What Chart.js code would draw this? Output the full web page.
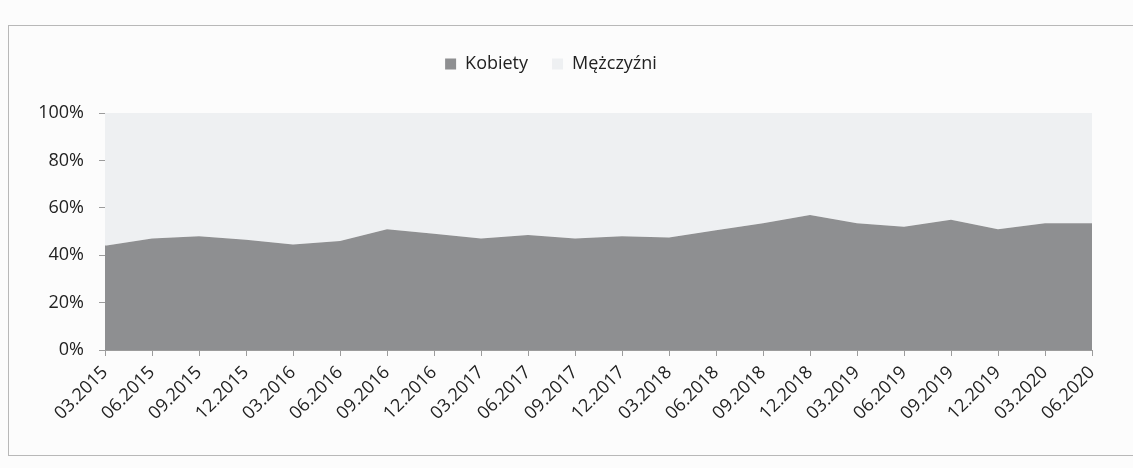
<!DOCTYPE html>
<html lang="pl">
<head>
<meta charset="utf-8">
<script src="https://cdn.jsdelivr.net/npm/chart.js@4/dist/chart.umd.min.js"></script>
<style>
  html, body { margin: 0; padding: 0; background: #fcfcfc; }
  #wrap  { position: relative; width: 1133px; height: 468px; overflow: hidden; }
  #frame { position: absolute; left: 8px; top: 25px; width: 1200px; height: 429px; border: 1px solid #b8b8b8; }
  canvas { position: absolute; left: 0; top: 0; }
</style>
</head>
<body>
<div id="wrap">
  <div id="frame"></div>
  <canvas id="chart" width="1133" height="468"></canvas>
</div>
<script>
// kwartały (koniec okresu)
const quarters = [
  '03.2015','06.2015','09.2015','12.2015','03.2016','06.2016','09.2016','12.2016',
  '03.2017','06.2017','09.2017','12.2017','03.2018','06.2018','09.2018','12.2018',
  '03.2019','06.2019','09.2019','12.2019','03.2020','06.2020'
];
// udział w % (odczyt z wykresu)
const kobiety   = [44, 47, 48, 46.5, 44.5, 46, 51, 49, 47, 48.5, 47, 48, 47.5, 50.5, 53.5, 57, 53.5, 52, 55, 51, 53.5, 53.5];
const mezczyzni = [56, 53, 52, 53.5, 55.5, 54, 49, 51, 53, 51.5, 53, 52, 52.5, 49.5, 46.5, 43, 46.5, 48, 45, 49, 46.5, 46.5];
const yTicks    = [0, 20, 40, 60, 80, 100];

const axisGrey = '#9c9c9c';
const font = { family: '"Open Sans", "Liberation Sans", sans-serif', size: 18 };

// extra room under the legend
const legendGap = {
  id: 'legendGap',
  beforeInit(chart) {
    const fit = chart.legend.fit;
    chart.legend.fit = function () {
      fit.bind(chart.legend)();
      this.height += 30;
    };
  }
};

new Chart(document.getElementById('chart'), {
  type: 'line',
  data: {
    labels: quarters,
    datasets: [
      {
        label: 'Kobiety',
        data: kobiety,
        backgroundColor: '#8e8f91',
        borderWidth: 0,
        pointRadius: 0,
        fill: 'origin',
        tension: 0,
      },
      {
        label: 'Mężczyźni',
        data: mezczyzni,
        backgroundColor: '#eef0f2',
        borderWidth: 0,
        pointRadius: 0,
        fill: '-1',
        tension: 0,
      },
    ],
  },
  options: {
    responsive: false,
    animation: false,
    layout: { padding: { left: 10, right: 41, top: 31, bottom: 0 } },
    plugins: {
      legend: {
        position: 'top',
        labels: { color: '#222', font, boxWidth: 11, boxHeight: 11, padding: 24 },
      },
      tooltip: { enabled: false },
    },
    scales: {
      x: {
        offset: false,
        grid: { drawOnChartArea: false, tickLength: 6, color: axisGrey },
        border: { color: axisGrey },
        ticks: { color: '#222', font, autoSkip: false, maxRotation: 45, minRotation: 45, padding: 6 },
        afterFit: s => { s.height = 118; },
      },
      y: {
        stacked: true,
        min: 0, max: 100,
        afterBuildTicks: s => { s.ticks = yTicks.map(v => ({ value: v })); },
        grid: {
          tickLength: 6,
          tickColor: axisGrey,
          color: c => (c.tick && c.tick.value === 100 ? '#a8a8a8' : 'rgba(0,0,0,0)'),
        },
        border: { color: axisGrey },
        ticks: { color: '#222', font, padding: 15, callback: v => v + '%' },
        afterFit: s => { s.width = 95; },
      },
    },
  },
  plugins: [legendGap],
});
</script>
</body>
</html>
